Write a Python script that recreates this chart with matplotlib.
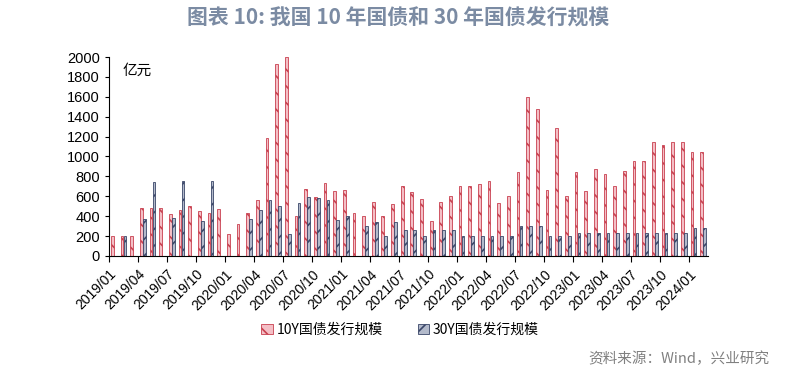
import numpy as np
import matplotlib
matplotlib.use("Agg")
from matplotlib import pyplot as plt

plt.rcParams['font.family'] = ['Noto Sans CJK SC', 'DejaVu Sans']
plt.rcParams['hatch.linewidth'] = 1.2

# 月份 2019/01 - 2024/02
months = [f"{y}/{m:02d}" for y in range(2019, 2025) for m in range(1, 13)][:62]

# 10Y国债发行规模 (亿元)
y10 = [200, 200, 200, 480, 480, 480, 423, 463, 503, 450, 430, 470,
       221, 322, 430, 560, 1188, 1933, 1995, 400, 671, 590, 738, 651,
       661, 430, 400, 540, 406, 523, 701, 641, 570, 349, 540, 601,
       701, 701, 728, 758, 530, 601, 849, 1597, 1477, 661, 1282, 601,
       849, 651, 879, 829, 701, 859, 956, 950, 1148, 1117, 1148, 1148,
       1047, 1047]
# 30Y国债发行规模 (亿元), 0 = 当月无发行
y30 = [0, 200, 0, 372, 742, 0, 383, 755, 0, 349, 752, 0,
       0, 0, 372, 460, 560, 500, 221, 534, 594, 580, 560, 366,
       400, 0, 299, 346, 198, 346, 258, 258, 198, 258, 258, 258,
       198, 198, 198, 198, 198, 198, 299, 299, 299, 198, 198, 198,
       228, 228, 228, 228, 228, 228, 228, 228, 228, 228, 228, 228,
       282, 282]

x = np.arange(len(months))
w = 0.28

fig = plt.figure(figsize=(7.97, 3.78), dpi=100)
ax = fig.add_axes([0.1368, 0.3228, 0.7516, 0.5264])

ax.bar(x - 0.16, y10, w, color='#F4BFC6', edgecolor='#C8404F', hatch='\\\\',
       linewidth=0.6, label='10Y国债发行规模')
ax.bar(x + 0.15, y30, w, color='#B3BACB', edgecolor='#3A4668', hatch='//',
       linewidth=0.6, label='30Y国债发行规模')

ax.set_xlim(-0.5, len(months) - 0.5)
ax.set_ylim(0, 2000)
ax.set_yticks(np.arange(0, 2001, 200))
ax.tick_params(axis='y', labelsize=10.5, length=3, direction='out')
for t in ax.get_yticklabels():
    t.set_fontfamily('Liberation Sans')

tick_pos = x[::3] - 0.5
ax.set_xticks(tick_pos)
ax.set_xticklabels(months[::3], rotation=45, ha='right', rotation_mode='anchor',
                   fontsize=10, fontfamily='Liberation Sans')
ax.tick_params(axis='x', length=4, direction='out', pad=4)

ax.spines['top'].set_visible(False)
ax.spines['right'].set_visible(False)
ax.spines['left'].set_color('#000000')
ax.spines['bottom'].set_color('#000000')

ax.text(0.022, 0.93, '亿元', transform=ax.transAxes, fontsize=10.5, va='center')

fig.text(0.5, 0.952, '图表 10: 我国 10 年国债和 30 年国债发行规模', ha='center', va='center',
         fontsize=15, fontweight='bold', color='#7B8BA3')

fig.legend(loc='center', bbox_to_anchor=(0.502, 0.127), ncol=2, frameon=False,
           fontsize=10, handlelength=0.8, handleheight=0.8, handletextpad=0.3,
           columnspacing=2.5)

fig.text(0.965, 0.05, '资料来源：Wind，兴业研究', ha='right', va='center',
         fontsize=10.5, color='#808080')

fig.savefig('out.png', dpi=100)
